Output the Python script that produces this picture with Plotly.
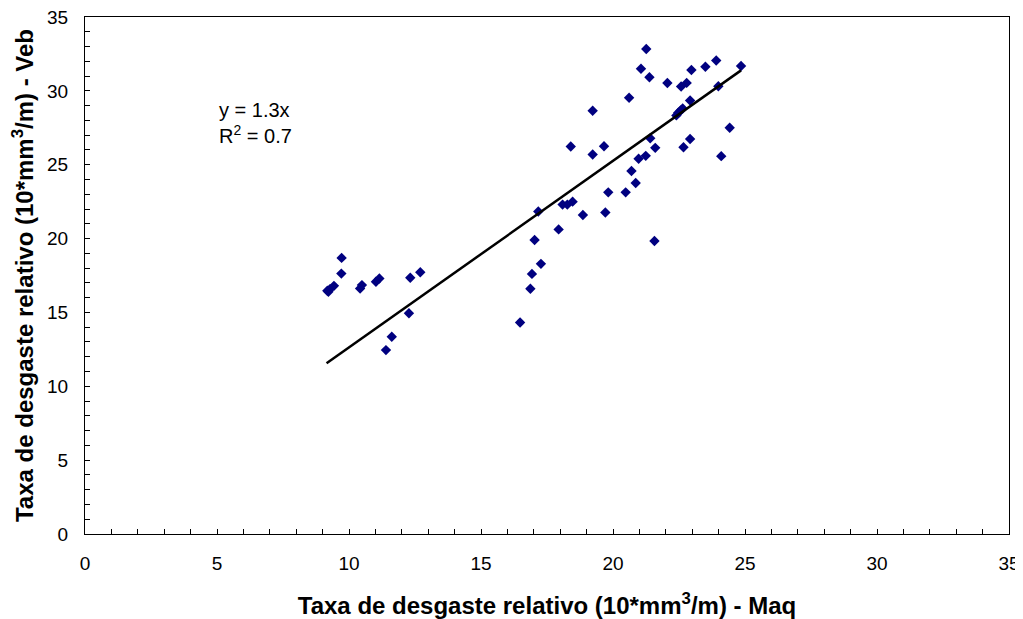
import plotly.graph_objects as go

# Data
maq = [9.18, 9.28, 9.43, 9.22, 9.72, 9.71, 10.42, 10.49, 11.02, 11.15, 12.32, 12.70,
       12.27, 11.62, 11.40,
       16.48, 16.87, 16.93, 17.03, 17.27, 17.17, 17.94, 18.09, 18.27, 18.47, 18.86,
       18.40, 19.23, 19.23, 19.66, 19.71, 19.82, 20.48, 20.61, 20.70, 20.86, 20.97,
       21.06, 21.24, 21.26, 21.38, 21.41, 21.57, 21.60, 22.06, 22.40, 22.47, 22.56,
       22.64, 22.58, 22.67, 22.79, 22.92, 22.92, 22.97, 23.50, 23.91, 23.99, 24.10,
       24.42, 24.85]
veb = [16.47, 16.58, 16.80, 16.40, 18.69, 17.63, 16.62, 16.85, 17.08, 17.30, 17.35, 17.72,
       14.94, 13.35, 12.45,
       14.32, 16.60, 17.61, 19.90, 18.29, 21.83, 20.62, 22.30, 22.30, 22.50, 21.60,
       26.23, 28.65, 25.69, 26.25, 21.76, 23.13, 23.13, 29.53, 24.57, 23.76, 25.40,
       31.50, 25.60, 32.83, 30.92, 26.79, 19.84, 26.14, 30.53, 28.34, 28.52, 28.67,
       28.81, 30.29, 26.18, 30.54, 29.35, 26.74, 31.41, 31.63, 32.06, 30.31, 25.58,
       27.50, 31.68]

trend_x = [9.15, 24.85]
trend_slope = 1.263
trend_y = [trend_slope * v for v in trend_x]

x_title = "Taxa de desgaste relativo (10*mm<sup>3</sup>/m) - Maq"
y_title = "Taxa de desgaste relativo (10*mm<sup>3</sup>/m) - Veb"
eq_text = "y = 1.3x<br>R<sup>2</sup> = 0.7"

FONT = "Liberation Sans, Arial, sans-serif"

fig = go.Figure()
fig.add_trace(go.Scatter(
    x=maq, y=veb, mode="markers",
    marker=dict(symbol="diamond", size=8, color="#000080", line=dict(width=0)),
    showlegend=False, hoverinfo="x+y"))
fig.add_trace(go.Scatter(
    x=trend_x, y=trend_y, mode="lines",
    line=dict(color="black", width=2.5),
    showlegend=False, hoverinfo="skip"))

fig.add_annotation(
    x=5.0, y=27.8, xref="x", yref="y", text=eq_text, showarrow=False,
    xanchor="left", yanchor="middle", align="left",
    font=dict(family=FONT, size=20, color="black"))

axis_common = dict(
    range=[0, 35], dtick=5, tick0=0, automargin=False,
    showline=True, linecolor="black", linewidth=1, mirror=True,
    ticks="inside", ticklen=5, tickcolor="black", tickwidth=1,
    minor=dict(dtick=1, ticks="inside", ticklen=5, tickcolor="black", tickwidth=1,
               showgrid=False),
    showgrid=False, zeroline=False, ticklabeloverflow="allow",
    tickfont=dict(family=FONT, size=19, color="black"),
)

fig.update_xaxes(**axis_common, ticklabelstandoff=12,
                 title=dict(text=x_title, standoff=24,
                            font=dict(family=FONT, size=24, color="black", weight="bold")))
fig.update_yaxes(**axis_common, ticklabelstandoff=12,
                 title=dict(text=y_title, standoff=7,
                            font=dict(family=FONT, size=24, color="black", weight="bold")))

# page body has an 8px default margin, so the figure is sized to fit the window
fig.update_layout(
    width=1015, height=611,
    margin=dict(l=77, r=14, t=9, b=85),
    plot_bgcolor="white", paper_bgcolor="white",
    font=dict(family=FONT, color="black"),
)

fig.write_html("out.html")
